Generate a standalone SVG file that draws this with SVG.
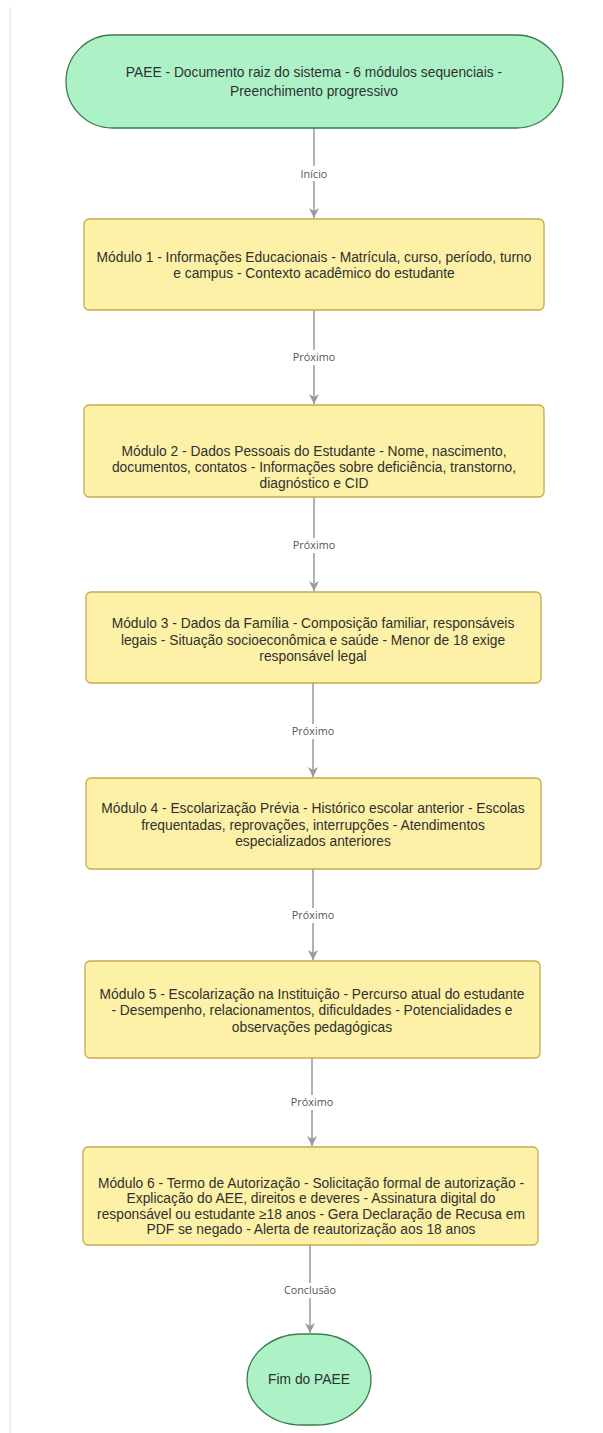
<svg xmlns="http://www.w3.org/2000/svg" width="603" height="1433" viewBox="0 0 603 1433">
  <style>
    .term { fill: #adf2c7; stroke: #3b7a4a; stroke-width: 1.3; }
    .mod { fill: #fcf1a6; stroke: #c9a94a; stroke-width: 1.3; }
    .txt { font-family: "Liberation Sans", Arial, sans-serif; font-size: 13.8px; fill: #303030; text-anchor: middle; }
    .edge { stroke: #999999; stroke-width: 1.5; fill: none; }
    .lbl { font-family: "Open Sans", "DejaVu Sans", sans-serif; font-size: 10.8px; fill: #555555; text-anchor: middle; }
    .lblbg { fill: #ffffff; }
  </style>
  <defs>
    <marker id="arrow" markerWidth="12" markerHeight="12" refX="10" refY="6" orient="auto" markerUnits="userSpaceOnUse">
      <path d="M0,1 L10,6 L0,11 L3,6 Z" fill="#999999"/>
    </marker>
  </defs>

  <rect x="0" y="0" width="603" height="1433" fill="#ffffff"/>
  <!-- faint page edge on the left -->
  <line x1="10" y1="7" x2="10" y2="1433" stroke="#eeeeee" stroke-width="2"/>

  <!-- connectors -->
  <g id="connectors">
    <line class="edge" x1="314" y1="128" x2="314" y2="218" marker-end="url(#arrow)"/>
    <rect class="lblbg" x="297" y="166" width="34" height="15"/>
    <text class="lbl" x="314" y="178">Início</text>

    <line class="edge" x1="314" y1="310" x2="314" y2="404" marker-end="url(#arrow)"/>
    <rect class="lblbg" x="291" y="350" width="46" height="15"/>
    <text class="lbl" x="314" y="361">Próximo</text>

    <line class="edge" x1="314" y1="497" x2="314" y2="591" marker-end="url(#arrow)"/>
    <rect class="lblbg" x="291" y="538" width="46" height="15"/>
    <text class="lbl" x="314" y="549">Próximo</text>

    <line class="edge" x1="313" y1="683" x2="313" y2="777" marker-end="url(#arrow)"/>
    <rect class="lblbg" x="290" y="724" width="46" height="15"/>
    <text class="lbl" x="313" y="735">Próximo</text>

    <line class="edge" x1="313" y1="869" x2="313" y2="960" marker-end="url(#arrow)"/>
    <rect class="lblbg" x="290" y="908" width="46" height="15"/>
    <text class="lbl" x="313" y="919">Próximo</text>

    <line class="edge" x1="312" y1="1058" x2="312" y2="1146" marker-end="url(#arrow)"/>
    <rect class="lblbg" x="289" y="1095" width="46" height="15"/>
    <text class="lbl" x="312" y="1106">Próximo</text>

    <line class="edge" x1="310" y1="1245" x2="310" y2="1333" marker-end="url(#arrow)"/>
    <rect class="lblbg" x="282" y="1283" width="56" height="15"/>
    <text class="lbl" x="310" y="1294">Conclusão</text>
  </g>

  <!-- start -->
  <g id="start">
    <rect class="term" x="66" y="35" width="497" height="93" rx="46.5" ry="46.5"/>
    <text class="txt" x="314" y="77">PAEE - Documento raiz do sistema - 6 módulos sequenciais -</text>
    <text class="txt" x="314" y="96">Preenchimento progressivo</text>
  </g>

  <!-- module 1 -->
  <g id="modulo1">
    <rect class="mod" x="84" y="219" width="460" height="91" rx="5"/>
    <text class="txt" x="314" y="262">Módulo 1 - Informações Educacionais - Matrícula, curso, período, turno</text>
    <text class="txt" x="314" y="278">e campus - Contexto acadêmico do estudante</text>
  </g>

  <!-- module 2 -->
  <g id="modulo2">
    <rect class="mod" x="84" y="405" width="460" height="92" rx="5"/>
    <text class="txt" x="314" y="456">Módulo 2 - Dados Pessoais do Estudante - Nome, nascimento,</text>
    <text class="txt" x="314" y="472">documentos, contatos - Informações sobre deficiência, transtorno,</text>
    <text class="txt" x="314" y="488">diagnóstico e CID</text>
  </g>

  <!-- module 3 -->
  <g id="modulo3">
    <rect class="mod" x="86" y="592" width="455" height="91" rx="5"/>
    <text class="txt" x="313" y="628">Módulo 3 - Dados da Família - Composição familiar, responsáveis</text>
    <text class="txt" x="313" y="645">legais - Situação socioeconômica e saúde - Menor de 18 exige</text>
    <text class="txt" x="313" y="661">responsável legal</text>
  </g>

  <!-- module 4 -->
  <g id="modulo4">
    <rect class="mod" x="86" y="778" width="455" height="91" rx="5"/>
    <text class="txt" x="313" y="813">Módulo 4 - Escolarização Prévia - Histórico escolar anterior - Escolas</text>
    <text class="txt" x="313" y="830">frequentadas, reprovações, interrupções - Atendimentos</text>
    <text class="txt" x="313" y="846">especializados anteriores</text>
  </g>

  <!-- module 5 -->
  <g id="modulo5">
    <rect class="mod" x="85" y="961" width="455" height="97" rx="5"/>
    <text class="txt" x="312" y="999">Módulo 5 - Escolarização na Instituição - Percurso atual do estudante</text>
    <text class="txt" x="312" y="1015">- Desempenho, relacionamentos, dificuldades - Potencialidades e</text>
    <text class="txt" x="312" y="1032">observações pedagógicas</text>
  </g>

  <!-- module 6 -->
  <g id="modulo6">
    <rect class="mod" x="83" y="1147" width="455" height="98" rx="5"/>
    <text class="txt" x="311" y="1188">Módulo 6 - Termo de Autorização - Solicitação formal de autorização -</text>
    <text class="txt" x="311" y="1203">Explicação do AEE, direitos e deveres - Assinatura digital do</text>
    <text class="txt" x="311" y="1219">responsável ou estudante ≥18 anos - Gera Declaração de Recusa em</text>
    <text class="txt" x="311" y="1234">PDF se negado - Alerta de reautorização aos 18 anos</text>
  </g>

  <!-- end -->
  <g id="fim">
    <rect class="term" x="247" y="1334" width="124" height="91" rx="55" ry="45.5"/>
    <text class="txt" x="309" y="1384">Fim do PAEE</text>
  </g>
</svg>
